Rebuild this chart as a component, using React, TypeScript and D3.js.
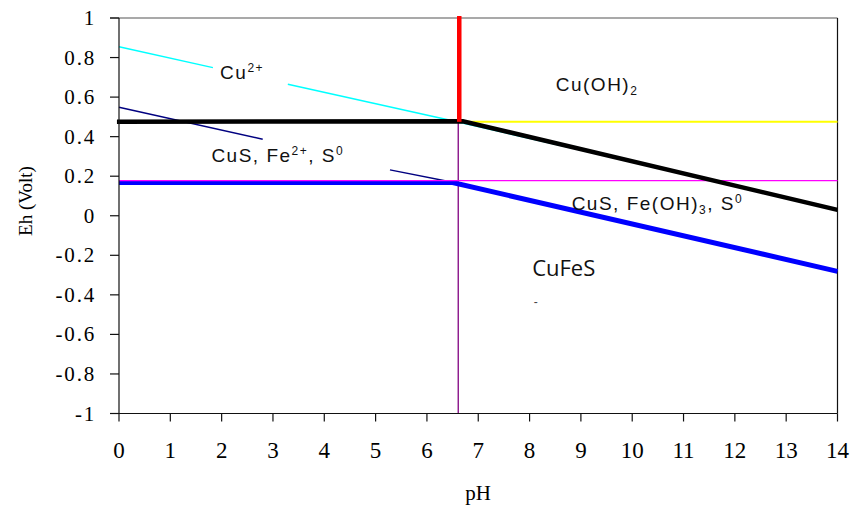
import React from "react";
import * as d3 from "d3";

const W = 850;
const H = 506;
const margin = { left: 119, right: 12, top: 18, bottom: 92.5 };

const phTicks = [0, 1, 2, 3, 4, 5, 6, 7, 8, 9, 10, 11, 12, 13, 14];
const ehTicks = [1, 0.8, 0.6, 0.4, 0.2, 0, -0.2, -0.4, -0.6, -0.8, -1];
const ehTickLabels = ["1", "0.8", "0.6", "0.4", "0.2", "0", "-0.2", "-0.4", "-0.6", "-0.8", "-1"];

type P = [number, number];
// series: [pH, Eh]
const magentaLine: P[] = [[0, 0.178], [14, 0.178]];
const yellowLine: P[] = [[6.7, 0.475], [14, 0.475]];
const cyanSeg1: P[] = [[0, 0.855], [1.83, 0.749]];
const cyanSeg2: P[] = [[3.29, 0.665], [6.65, 0.472]];
const cyanSeg3: P[] = [[6.65, 0.472], [9, 0.332]];
const navySeg1: P[] = [[0, 0.549], [2.8, 0.387]];
const navySeg2: P[] = [[5.28, 0.232], [6.45, 0.172]];
const purpleLine: P[] = [[6.61, 0.475], [6.61, -1]];
const blueLine: P[] = [[0, 0.168], [6.5, 0.168], [14, -0.281]];
const blackLine: P[] = [[-0.04, 0.475], [6.7, 0.478], [14, 0.03]];
const redLine: P[] = [[6.63, 1.01], [6.63, 0.475]];

export default function App() {
  const x = d3.scaleLinear().domain([0, 14]).range([margin.left, W - margin.right - 0.5]);
  const y = d3.scaleLinear().domain([1, -1]).range([margin.top, H - margin.bottom]);
  const line = d3.line<P>().x((d) => x(d[0])).y((d) => y(d[1]));

  const x0 = x(0), x1 = x(14), y0 = y(1), y1 = y(-1);
  const sans = "'Liberation Sans', Arial, sans-serif";
  const serif = "'Liberation Serif', 'Times New Roman', serif";

  const lbl = { fontFamily: sans, fontSize: 19, fill: "#111", letterSpacing: 1.5 } as const;

  return (
    <svg width={W} height={H} style={{ position: "absolute", left: 0, top: 0 }}>
      <rect width={W} height={H} fill="#fff" />
      {/* frame */}
      <line x1={x0 - 9} x2={x1} y1={y0} y2={y0} stroke="#555" strokeWidth={1.2} />
      <line x1={x1} x2={x1} y1={y0} y2={y1} stroke="#111" strokeWidth={1.2} />
      {/* data lines */}
      <path d={line(cyanSeg3)!} stroke="#00FFFF" strokeWidth={1.5} fill="none" />
      <path d={line(yellowLine)!} stroke="#FFFF00" strokeWidth={2} fill="none" />
      <path d={line(cyanSeg1)!} stroke="#00FFFF" strokeWidth={1.5} fill="none" />
      <path d={line(cyanSeg2)!} stroke="#00FFFF" strokeWidth={1.5} fill="none" />
      <path d={line(navySeg1)!} stroke="#000080" strokeWidth={1.5} fill="none" />
      <path d={line(navySeg2)!} stroke="#000080" strokeWidth={1.5} fill="none" />
      <path d={line(purpleLine)!} stroke="#800080" strokeWidth={1.3} fill="none" />
      <path d={line(blueLine)!} stroke="#0000FF" strokeWidth={5} fill="none" />
      <path d={line(magentaLine)!} stroke="#FF00FF" strokeWidth={1.3} fill="none" />
      <path d={line(blackLine)!} stroke="#000" strokeWidth={4.5} fill="none" />
      <path d={line(redLine)!} stroke="#FF0000" strokeWidth={4.5} fill="none" />

      {/* axes */}
      <line x1={x0} x2={x0} y1={y0} y2={y1} stroke="#111" strokeWidth={1.2} />
      <line x1={x0 - 9} x2={x1} y1={y1} y2={y1} stroke="#111" strokeWidth={1.2} />
      {ehTicks.map((t, i) => (
        <g key={"y" + i}>
          <line x1={x0 - 9} x2={x0} y1={y(t)} y2={y(t)} stroke="#111" strokeWidth={1.2} />
          <text x={96} y={y(t) + 7} textAnchor="end" fontFamily={serif} fontSize={21} letterSpacing={1.8} fill="#000">
            {ehTickLabels[i]}
          </text>
        </g>
      ))}
      {phTicks.map((t) => (
        <g key={"x" + t}>
          <line x1={x(t)} x2={x(t)} y1={y1} y2={y1 + 8} stroke="#111" strokeWidth={1.2} />
          <text x={x(t)} y={458} textAnchor="middle" fontFamily={serif} fontSize={23} fill="#000">
            {t}
          </text>
        </g>
      ))}
      <text x={478} y={500} textAnchor="middle" fontFamily={serif} fontSize={21} fill="#000">pH</text>
      <text transform="translate(32,201) rotate(-90)" textAnchor="middle" fontFamily={serif} fontSize={19} fill="#000">
        Eh (Volt)
      </text>

      {/* region labels */}
      <text x={x(1.97)} y={y(0.692)} {...lbl}>
        Cu<tspan dy={-7} fontSize={12}>2+</tspan>
      </text>
      <text x={x(1.8)} y={y(0.27)} {...lbl}>
        CuS, Fe<tspan dy={-7} fontSize={12}>2+</tspan><tspan dy={7}>, S</tspan><tspan dy={-7} fontSize={12}>0</tspan>
      </text>
      <text x={x(8.51)} y={y(0.633)} {...lbl}>
        Cu(OH)<tspan dy={4} fontSize={12}>2</tspan>
      </text>
      <text x={x(8.82)} y={y(0.0303)} {...lbl}>
        CuS, Fe(OH)<tspan dy={4} fontSize={12}>3</tspan><tspan dy={-4}>, S</tspan><tspan dy={-7} fontSize={12}>0</tspan>
      </text>
      <text x={x(8.05)} y={y(-0.307)} fontFamily="'Open Sans', 'Noto Sans', sans-serif" fontSize={22} fill="#111">
        CuFeS
      </text>
      <text x={x(8.08)} y={y(-0.455)} fontFamily={sans} fontSize={12} fill="#444">-</text>
    </svg>
  );
}
